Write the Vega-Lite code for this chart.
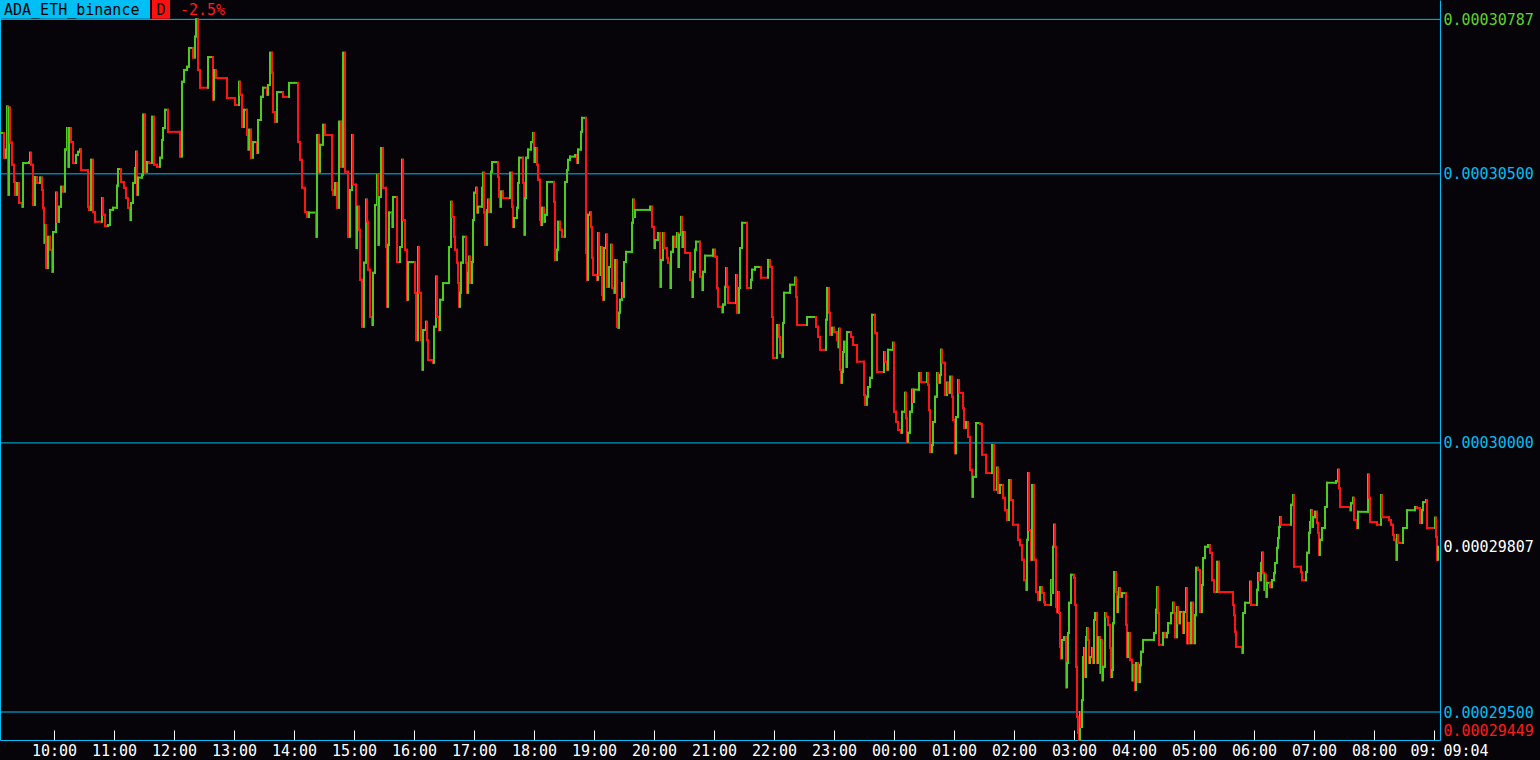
{
"$schema": "https://vega.github.io/schema/vega-lite/v6.json",
"width": 1440, "height": 740,
"autosize": {"type": "none"},
"padding": {"left": 0, "top": 0, "right": 100, "bottom": 20},
"background": "#060409",
"config": {"view": {"stroke": null}, "font": "DejaVu Sans Mono"},
"datasets": {
"ticks": [
{"t":546,"p":0.00030576},{"t":550,"p":0.00030530},{"t":552,"p":0.00030545},{"t":553,"p":0.00030625},{"t":554,"p":0.00030461},{"t":555,"p":0.00030623},{"t":556,"p":0.00030558},{"t":558,"p":0.00030517},{"t":560,"p":0.00030485},{"t":561,"p":0.00030461},{"t":563,"p":0.00030483},{"t":565,"p":0.00030446},{"t":568,"p":0.00030439},{"t":569,"p":0.00030520},{"t":575,"p":0.00030522},{"t":576,"p":0.00030539},{"t":577,"p":0.00030517},{"t":579,"p":0.00030442},{"t":581,"p":0.00030494},{"t":583,"p":0.00030483},{"t":586,"p":0.00030493},{"t":588,"p":0.00030470},{"t":589,"p":0.00030437},{"t":590,"p":0.00030372},{"t":591,"p":0.00030405},{"t":592,"p":0.00030325},{"t":594,"p":0.00030383},{"t":596,"p":0.00030359},{"t":598,"p":0.00030318},{"t":599,"p":0.00030392},{"t":602,"p":0.00030465},{"t":603,"p":0.00030411},{"t":605,"p":0.00030439},{"t":607,"p":0.00030476},{"t":609,"p":0.00030467},{"t":611,"p":0.00030545},{"t":613,"p":0.00030585},{"t":614,"p":0.00030513},{"t":615,"p":0.00030585},{"t":617,"p":0.00030559},{"t":619,"p":0.00030520},{"t":622,"p":0.00030535},{"t":624,"p":0.00030541},{"t":626,"p":0.00030545},{"t":627,"p":0.00030507},{"t":634,"p":0.00030439},{"t":635,"p":0.00030433},{"t":637,"p":0.00030526},{"t":639,"p":0.00030429},{"t":641,"p":0.00030411},{"t":648,"p":0.00030455},{"t":649,"p":0.00030424},{"t":651,"p":0.00030403},{"t":654,"p":0.00030405},{"t":656,"p":0.00030433},{"t":659,"p":0.00030437},{"t":663,"p":0.00030478},{"t":664,"p":0.00030509},{"t":667,"p":0.00030485},{"t":670,"p":0.00030474},{"t":672,"p":0.00030455},{"t":674,"p":0.00030437},{"t":676,"p":0.00030414},{"t":677,"p":0.00030446},{"t":679,"p":0.00030483},{"t":681,"p":0.00030511},{"t":682,"p":0.00030541},{"t":683,"p":0.00030461},{"t":684,"p":0.00030493},{"t":688,"p":0.00030498},{"t":689,"p":0.00030610},{"t":691,"p":0.00030504},{"t":693,"p":0.00030522},{"t":695,"p":0.00030520},{"t":698,"p":0.00030606},{"t":700,"p":0.00030517},{"t":703,"p":0.00030513},{"t":706,"p":0.00030530},{"t":708,"p":0.00030563},{"t":709,"p":0.00030585},{"t":711,"p":0.00030619},{"t":714,"p":0.00030578},{"t":726,"p":0.00030532},{"t":728,"p":0.00030671},{"t":730,"p":0.00030693},{"t":733,"p":0.00030699},{"t":735,"p":0.00030734},{"t":739,"p":0.00030716},{"t":741,"p":0.00030755},{"t":742,"p":0.00030787},{"t":744,"p":0.00030693},{"t":746,"p":0.00030660},{"t":754,"p":0.00030717},{"t":759,"p":0.00030638},{"t":760,"p":0.00030693},{"t":762,"p":0.00030678},{"t":773,"p":0.00030641},{"t":781,"p":0.00030628},{"t":785,"p":0.00030671},{"t":786,"p":0.00030647},{"t":788,"p":0.00030587},{"t":790,"p":0.00030619},{"t":793,"p":0.00030572},{"t":794,"p":0.00030545},{"t":795,"p":0.00030582},{"t":797,"p":0.00030530},{"t":799,"p":0.00030559},{"t":803,"p":0.00030539},{"t":804,"p":0.00030600},{"t":807,"p":0.00030643},{"t":809,"p":0.00030660},{"t":813,"p":0.00030647},{"t":814,"p":0.00030665},{"t":816,"p":0.00030725},{"t":818,"p":0.00030688},{"t":819,"p":0.00030615},{"t":821,"p":0.00030597},{"t":823,"p":0.00030652},{"t":829,"p":0.00030643},{"t":835,"p":0.00030669},{"t":844,"p":0.00030559},{"t":846,"p":0.00030526},{"t":848,"p":0.00030474},{"t":851,"p":0.00030429},{"t":853,"p":0.00030420},{"t":855,"p":0.00030428},{"t":862,"p":0.00030383},{"t":863,"p":0.00030572},{"t":865,"p":0.00030504},{"t":866,"p":0.00030554},{"t":869,"p":0.00030591},{"t":871,"p":0.00030572},{"t":878,"p":0.00030470},{"t":879,"p":0.00030461},{"t":881,"p":0.00030483},{"t":883,"p":0.00030437},{"t":885,"p":0.00030597},{"t":887,"p":0.00030513},{"t":889,"p":0.00030725},{"t":891,"p":0.00030504},{"t":894,"p":0.00030383},{"t":896,"p":0.00030470},{"t":898,"p":0.00030572},{"t":899,"p":0.00030480},{"t":902,"p":0.00030362},{"t":903,"p":0.00030439},{"t":905,"p":0.00030396},
{"t":906,"p":0.00030303},{"t":908,"p":0.00030216},{"t":910,"p":0.00030335},{"t":912,"p":0.00030452},{"t":913,"p":0.00030411},{"t":914,"p":0.00030322},{"t":916,"p":0.00030234},{"t":918,"p":0.00030219},{"t":919,"p":0.00030316},{"t":921,"p":0.00030442},{"t":923,"p":0.00030498},{"t":924,"p":0.00030368},{"t":925,"p":0.00030457},{"t":927,"p":0.00030548},{"t":929,"p":0.00030474},{"t":932,"p":0.00030364},{"t":933,"p":0.00030253},{"t":934,"p":0.00030368},{"t":935,"p":0.00030428},{"t":938,"p":0.00030401},{"t":939,"p":0.00030457},{"t":943,"p":0.00030336},{"t":946,"p":0.00030364},{"t":948,"p":0.00030526},{"t":949,"p":0.00030414},{"t":951,"p":0.00030359},{"t":953,"p":0.00030266},{"t":954,"p":0.00030336},{"t":961,"p":0.00030279},{"t":962,"p":0.00030191},{"t":964,"p":0.00030364},{"t":965,"p":0.00030279},{"t":967,"p":0.00030191},{"t":968,"p":0.00030136},{"t":969,"p":0.00030210},{"t":972,"p":0.00030225},{"t":973,"p":0.00030191},{"t":974,"p":0.00030154},{"t":979,"p":0.00030149},{"t":980,"p":0.00030216},{"t":982,"p":0.00030309},{"t":983,"p":0.00030234},{"t":985,"p":0.00030210},{"t":986,"p":0.00030266},{"t":989,"p":0.00030297},{"t":995,"p":0.00030364},{"t":997,"p":0.00030448},{"t":998,"p":0.00030420},{"t":1000,"p":0.00030383},{"t":1001,"p":0.00030359},{"t":1003,"p":0.00030335},{"t":1004,"p":0.00030297},{"t":1005,"p":0.00030253},{"t":1006,"p":0.00030279},{"t":1007,"p":0.00030335},{"t":1009,"p":0.00030383},{"t":1012,"p":0.00030335},{"t":1013,"p":0.00030279},{"t":1014,"p":0.00030316},{"t":1015,"p":0.00030346},{"t":1016,"p":0.00030297},{"t":1018,"p":0.00030336},{"t":1019,"p":0.00030414},{"t":1020,"p":0.00030465},{"t":1022,"p":0.00030474},{"t":1023,"p":0.00030428},{"t":1024,"p":0.00030439},{"t":1028,"p":0.00030474},{"t":1029,"p":0.00030502},{"t":1030,"p":0.00030428},{"t":1031,"p":0.00030368},{"t":1033,"p":0.00030433},{"t":1034,"p":0.00030452},{"t":1035,"p":0.00030429},{"t":1037,"p":0.00030504},{"t":1038,"p":0.00030522},{"t":1044,"p":0.00030494},{"t":1045,"p":0.00030457},{"t":1046,"p":0.00030439},{"t":1047,"p":0.00030467},{"t":1049,"p":0.00030455},{"t":1056,"p":0.00030502},{"t":1058,"p":0.00030439},{"t":1059,"p":0.00030401},{"t":1060,"p":0.00030418},{"t":1063,"p":0.00030437},{"t":1064,"p":0.00030483},{"t":1065,"p":0.00030530},{"t":1069,"p":0.00030483},{"t":1070,"p":0.00030387},{"t":1071,"p":0.00030455},{"t":1072,"p":0.00030530},{"t":1074,"p":0.00030545},{"t":1077,"p":0.00030559},{"t":1079,"p":0.00030576},{"t":1080,"p":0.00030522},{"t":1081,"p":0.00030548},{"t":1083,"p":0.00030517},{"t":1084,"p":0.00030489},{"t":1086,"p":0.00030414},{"t":1087,"p":0.00030405},{"t":1088,"p":0.00030437},{"t":1090,"p":0.00030411},{"t":1091,"p":0.00030424},{"t":1093,"p":0.00030485},{"t":1100,"p":0.00030448},{"t":1101,"p":0.00030340},{"t":1103,"p":0.00030359},{"t":1104,"p":0.00030411},{"t":1106,"p":0.00030396},{"t":1108,"p":0.00030383},{"t":1111,"p":0.00030485},{"t":1113,"p":0.00030507},{"t":1114,"p":0.00030526},{"t":1116,"p":0.00030532},{"t":1121,"p":0.00030535},{"t":1123,"p":0.00030520},{"t":1124,"p":0.00030545},{"t":1127,"p":0.00030578},{"t":1128,"p":0.00030604},{"t":1132,"p":0.00030353},{"t":1133,"p":0.00030303},{"t":1134,"p":0.00030424},{"t":1136,"p":0.00030428},{"t":1137,"p":0.00030401},{"t":1138,"p":0.00030344},{"t":1139,"p":0.00030312},{"t":1143,"p":0.00030303},{"t":1144,"p":0.00030390},{"t":1145,"p":0.00030312},{"t":1147,"p":0.00030364},{"t":1148,"p":0.00030275},{"t":1149,"p":0.00030266},{"t":1150,"p":0.00030362},{"t":1152,"p":0.00030387},{"t":1153,"p":0.00030290},{"t":1155,"p":0.00030327},{"t":1157,"p":0.00030368},{"t":1158,"p":0.00030288},{"t":1160,"p":0.00030279},{"t":1161,"p":0.00030340},{"t":1163,"p":0.00030216},{"t":1164,"p":0.00030214},{"t":1165,"p":0.00030242},{"t":1166,"p":0.00030266},{"t":1168,"p":0.00030297},{"t":1169,"p":0.00030271},{"t":1170,"p":0.00030336},{"t":1172,"p":0.00030355},{"t":1178,"p":0.00030409},{"t":1179,"p":0.00030452},{"t":1180,"p":0.00030420},{"t":1181,"p":0.00030433},{"t":1196,"p":0.00030439},{"t":1198,"p":0.00030401},{"t":1200,"p":0.00030362},{"t":1201,"p":0.00030377},{"t":1204,"p":0.00030390},{"t":1206,"p":0.00030290},{"t":1207,"p":0.00030340},{"t":1209,"p":0.00030390},{"t":1210,"p":0.00030362},{"t":1213,"p":0.00030344},{"t":1214,"p":0.00030335},{"t":1216,"p":0.00030288},{"t":1217,"p":0.00030355},{"t":1219,"p":0.00030383},{"t":1221,"p":0.00030364},{"t":1223,"p":0.00030390},{"t":1224,"p":0.00030327},{"t":1225,"p":0.00030387},{"t":1227,"p":0.00030420},{"t":1228,"p":0.00030364},{"t":1229,"p":0.00030392},{"t":1231,"p":0.00030353},{"t":1236,"p":0.00030303},{"t":1238,"p":0.00030271},{"t":1239,"p":0.00030318},{"t":1241,"p":0.00030359},{"t":1242,"p":0.00030374},
{"t":1246,"p":0.00030309},{"t":1248,"p":0.00030284},{"t":1249,"p":0.00030318},{"t":1251,"p":0.00030348},{"t":1259,"p":0.00030359},{"t":1261,"p":0.00030346},{"t":1263,"p":0.00030288},{"t":1264,"p":0.00030253},{"t":1268,"p":0.00030243},{"t":1269,"p":0.00030257},{"t":1271,"p":0.00030290},{"t":1272,"p":0.00030325},{"t":1273,"p":0.00030290},{"t":1274,"p":0.00030260},{"t":1282,"p":0.00030312},{"t":1283,"p":0.00030242},{"t":1285,"p":0.00030288},{"t":1286,"p":0.00030362},{"t":1288,"p":0.00030409},{"t":1293,"p":0.00030288},{"t":1297,"p":0.00030303},{"t":1298,"p":0.00030322},{"t":1301,"p":0.00030327},{"t":1307,"p":0.00030307},{"t":1314,"p":0.00030340},{"t":1316,"p":0.00030327},{"t":1318,"p":0.00030234},{"t":1319,"p":0.00030158},{"t":1323,"p":0.00030219},{"t":1325,"p":0.00030197},{"t":1326,"p":0.00030167},{"t":1328,"p":0.00030160},{"t":1329,"p":0.00030223},{"t":1330,"p":0.00030279},{"t":1336,"p":0.00030294},{"t":1341,"p":0.00030307},{"t":1342,"p":0.00030271},{"t":1343,"p":0.00030219},{"t":1353,"p":0.00030234},{"t":1362,"p":0.00030216},{"t":1364,"p":0.00030197},{"t":1366,"p":0.00030173},{"t":1372,"p":0.00030229},{"t":1373,"p":0.00030288},{"t":1375,"p":0.00030242},{"t":1376,"p":0.00030201},{"t":1378,"p":0.00030214},{"t":1380,"p":0.00030206},{"t":1383,"p":0.00030191},{"t":1384,"p":0.00030178},{"t":1385,"p":0.00030212},{"t":1386,"p":0.00030136},{"t":1387,"p":0.00030112},{"t":1388,"p":0.00030132},{"t":1389,"p":0.00030169},{"t":1390,"p":0.00030188},{"t":1392,"p":0.00030141},{"t":1393,"p":0.00030206},{"t":1397,"p":0.00030197},{"t":1399,"p":0.00030182},{"t":1403,"p":0.00030151},{"t":1410,"p":0.00030089},{"t":1411,"p":0.00030071},{"t":1413,"p":0.00030086},{"t":1414,"p":0.00030104},{"t":1416,"p":0.00030121},{"t":1418,"p":0.00030238},{"t":1421,"p":0.00030204},{"t":1423,"p":0.00030132},{"t":1430,"p":0.00030169},{"t":1431,"p":0.00030151},{"t":1433,"p":0.00030136},{"t":1434,"p":0.00030173},{"t":1439,"p":0.00030186},{"t":1440,"p":0.00030058},{"t":1442,"p":0.00030039},{"t":1444,"p":0.00030024},{"t":1447,"p":0.00030019},{"t":1448,"p":0.00030058},{"t":1451,"p":0.00030093},{"t":1452,"p":0.00030046},{"t":1453,"p":0.00030002},{"t":1454,"p":0.00030019},{"t":1456,"p":0.00030058},{"t":1458,"p":0.00030099},{"t":1459,"p":0.00030076},{"t":1460,"p":0.00030099},{"t":1465,"p":0.00030130},{"t":1467,"p":0.00030113},{"t":1473,"p":0.00030130},{"t":1474,"p":0.00030108},{"t":1475,"p":0.00030061},{"t":1476,"p":0.00029983},{"t":1478,"p":0.00029996},{"t":1479,"p":0.00030039},{"t":1481,"p":0.00030086},{"t":1483,"p":0.00030130},{"t":1484,"p":0.00030112},{"t":1486,"p":0.00030126},{"t":1487,"p":0.00030173},{"t":1488,"p":0.00030149},{"t":1491,"p":0.00030089},{"t":1493,"p":0.00030112},{"t":1494,"p":0.00030093},{"t":1496,"p":0.00030123},{"t":1498,"p":0.00030086},{"t":1499,"p":0.00030043},{"t":1501,"p":0.00029981},{"t":1502,"p":0.00030048},{"t":1504,"p":0.00030117},{"t":1505,"p":0.00030093},{"t":1509,"p":0.00030065},{"t":1510,"p":0.00030028},{"t":1512,"p":0.00030039},{"t":1514,"p":0.00030011},{"t":1516,"p":0.00029950},{"t":1518,"p":0.00029900},{"t":1519,"p":0.00029937},{"t":1522,"p":0.00030037},{"t":1526,"p":0.00030035},{"t":1528,"p":0.00029978},{"t":1532,"p":0.00029944},{"t":1538,"p":0.00029996},{"t":1540,"p":0.00029913},{"t":1543,"p":0.00029954},{"t":1544,"p":0.00029907},{"t":1546,"p":0.00029922},{"t":1549,"p":0.00029898},{"t":1551,"p":0.00029875},{"t":1553,"p":0.00029857},{"t":1555,"p":0.00029931},{"t":1557,"p":0.00029894},{"t":1559,"p":0.00029848},{"t":1564,"p":0.00029820},{"t":1566,"p":0.00029810},{"t":1568,"p":0.00029783},{"t":1570,"p":0.00029745},{"t":1572,"p":0.00029727},{"t":1573,"p":0.00029820},{"t":1574,"p":0.00029944},{"t":1575,"p":0.00029838},{"t":1577,"p":0.00029783},{"t":1578,"p":0.00029922},{"t":1580,"p":0.00029783},{"t":1582,"p":0.00029723},{"t":1584,"p":0.00029708},
{"t":1586,"p":0.00029732},{"t":1588,"p":0.00029721},{"t":1590,"p":0.00029704},{"t":1591,"p":0.00029699},{"t":1597,"p":0.00029745},{"t":1598,"p":0.00029721},{"t":1599,"p":0.00029807},{"t":1600,"p":0.00029848},{"t":1601,"p":0.00029807},{"t":1602,"p":0.00029695},{"t":1603,"p":0.00029686},{"t":1604,"p":0.00029723},{"t":1605,"p":0.00029684},{"t":1606,"p":0.00029621},{"t":1607,"p":0.00029600},{"t":1608,"p":0.00029634},{"t":1610,"p":0.00029639},{"t":1612,"p":0.00029546},{"t":1613,"p":0.00029591},{"t":1614,"p":0.00029647},{"t":1615,"p":0.00029703},{"t":1617,"p":0.00029755},{"t":1620,"p":0.00029749},{"t":1621,"p":0.00029699},{"t":1622,"p":0.00029584},{"t":1623,"p":0.00029491},{"t":1624,"p":0.00029461},{"t":1625,"p":0.00029449},{"t":1626,"p":0.00029500},{"t":1627,"p":0.00029472},{"t":1628,"p":0.00029522},{"t":1629,"p":0.00029602},{"t":1630,"p":0.00029619},{"t":1631,"p":0.00029565},{"t":1632,"p":0.00029639},{"t":1633,"p":0.00029656},{"t":1634,"p":0.00029634},{"t":1635,"p":0.00029591},{"t":1636,"p":0.00029602},{"t":1638,"p":0.00029619},{"t":1639,"p":0.00029591},{"t":1640,"p":0.00029671},{"t":1641,"p":0.00029684},{"t":1643,"p":0.00029591},{"t":1644,"p":0.00029639},{"t":1646,"p":0.00029573},{"t":1647,"p":0.00029634},{"t":1648,"p":0.00029559},{"t":1649,"p":0.00029584},{"t":1651,"p":0.00029684},{"t":1652,"p":0.00029677},{"t":1654,"p":0.00029662},{"t":1656,"p":0.00029619},{"t":1657,"p":0.00029565},{"t":1658,"p":0.00029578},{"t":1659,"p":0.00029665},{"t":1660,"p":0.00029760},{"t":1662,"p":0.00029723},{"t":1663,"p":0.00029686},{"t":1664,"p":0.00029714},{"t":1665,"p":0.00029730},{"t":1666,"p":0.00029714},{"t":1668,"p":0.00029721},{"t":1672,"p":0.00029662},{"t":1673,"p":0.00029602},{"t":1674,"p":0.00029647},{"t":1676,"p":0.00029597},{"t":1678,"p":0.00029559},{"t":1679,"p":0.00029587},{"t":1680,"p":0.00029559},{"t":1681,"p":0.00029541},{"t":1682,"p":0.00029591},{"t":1684,"p":0.00029556},{"t":1686,"p":0.00029587},{"t":1687,"p":0.00029612},{"t":1689,"p":0.00029634},{"t":1700,"p":0.00029647},{"t":1702,"p":0.00029690},{"t":1703,"p":0.00029732},{"t":1704,"p":0.00029684},{"t":1705,"p":0.00029625},{"t":1709,"p":0.00029647},{"t":1711,"p":0.00029639},{"t":1713,"p":0.00029647},{"t":1714,"p":0.00029665},{"t":1717,"p":0.00029684},{"t":1719,"p":0.00029703},{"t":1720,"p":0.00029684},{"t":1721,"p":0.00029639},{"t":1723,"p":0.00029695},{"t":1724,"p":0.00029665},{"t":1726,"p":0.00029686},{"t":1729,"p":0.00029647},{"t":1730,"p":0.00029686},{"t":1732,"p":0.00029730},{"t":1733,"p":0.00029628},{"t":1734,"p":0.00029665},{"t":1735,"p":0.00029628},{"t":1737,"p":0.00029703},{"t":1739,"p":0.00029628},{"t":1741,"p":0.00029680},{"t":1742,"p":0.00029768},{"t":1744,"p":0.00029764},{"t":1746,"p":0.00029686},{"t":1748,"p":0.00029736},{"t":1749,"p":0.00029786},{"t":1751,"p":0.00029807},{"t":1754,"p":0.00029810},{"t":1756,"p":0.00029796},{"t":1758,"p":0.00029745},{"t":1760,"p":0.00029723},{"t":1763,"p":0.00029779},{"t":1765,"p":0.00029723},{"t":1779,"p":0.00029699},{"t":1780,"p":0.00029680},{"t":1781,"p":0.00029649},{"t":1782,"p":0.00029621},{"t":1788,"p":0.00029610},{"t":1789,"p":0.00029684},{"t":1791,"p":0.00029703},{"t":1796,"p":0.00029742},{"t":1797,"p":0.00029699},{"t":1803,"p":0.00029727},{"t":1804,"p":0.00029758},{"t":1805,"p":0.00029745},{"t":1807,"p":0.00029777},{"t":1808,"p":0.00029796},{"t":1809,"p":0.00029758},{"t":1810,"p":0.00029727},{"t":1811,"p":0.00029755},{"t":1812,"p":0.00029714},{"t":1813,"p":0.00029740},{"t":1816,"p":0.00029732},{"t":1818,"p":0.00029745},{"t":1820,"p":0.00029758},{"t":1821,"p":0.00029777},{"t":1823,"p":0.00029805},{"t":1824,"p":0.00029823},{"t":1825,"p":0.00029844},{"t":1826,"p":0.00029862},{"t":1827,"p":0.00029848},{"t":1837,"p":0.00029885},{"t":1839,"p":0.00029903},{"t":1840,"p":0.00029770},{"t":1847,"p":0.00029760},{"t":1848,"p":0.00029745},{"t":1852,"p":0.00029760},{"t":1853,"p":0.00029796},{"t":1855,"p":0.00029833},{"t":1856,"p":0.00029853},{"t":1857,"p":0.00029875},{"t":1858,"p":0.00029844},{"t":1859,"p":0.00029862},{"t":1861,"p":0.00029872},{"t":1863,"p":0.00029851},{"t":1864,"p":0.00029833},{"t":1865,"p":0.00029792},{"t":1866,"p":0.00029820},{"t":1868,"p":0.00029842},{"t":1871,"p":0.00029881},{"t":1873,"p":0.00029926},{"t":1882,"p":0.00029929},{"t":1884,"p":0.00029950},{"t":1885,"p":0.00029916},{"t":1886,"p":0.00029881},{"t":1896,"p":0.00029875},{"t":1897,"p":0.00029888},{"t":1899,"p":0.00029898},{"t":1900,"p":0.00029857},{"t":1903,"p":0.00029842},{"t":1904,"p":0.00029872},{"t":1914,"p":0.00029941},{"t":1915,"p":0.00029898},{"t":1916,"p":0.00029853},{"t":1923,"p":0.00029848},{"t":1927,"p":0.00029903},{"t":1928,"p":0.00029862},{"t":1935,"p":0.00029857},{"t":1937,"p":0.00029848},{"t":1939,"p":0.00029829},{"t":1940,"p":0.00029820},{"t":1942,"p":0.00029783},{"t":1943,"p":0.00029829},{"t":1944,"p":0.00029814},{"t":1949,"p":0.00029842},{"t":1953,"p":0.00029875},{"t":1961,"p":0.00029881},{"t":1963,"p":0.00029879},{"t":1966,"p":0.00029851},{"t":1968,"p":0.00029875},{"t":1969,"p":0.00029890},{"t":1972,"p":0.00029894},{"t":1973,"p":0.00029842},{"t":1981,"p":0.00029861},{"t":1982,"p":0.00029825},{"t":1983,"p":0.00029783},{"t":1984,"p":0.00029807}
],
"levels": [{"level":0.00030787},{"level":0.00030500},{"level":0.00030000},{"level":0.00029500}],
"header": [{"name":"ADA_ETH_binance","period":"D","change":"-2.5%"}]
},
"resolve": {"axis": {"y": "independent"}},
"layer": [
{
"data": {"name": "levels"},
"mark": {"type": "rule", "color": "#00bdf5", "strokeWidth": 1},
"encoding": {
"y": {"field": "level", "type": "quantitative",
"scale": {"domain": [0.00029448, 0.00030823], "nice": false, "zero": false},
"axis": {"orient": "left", "labels": false, "ticks": false, "grid": false, "title": null, "domainColor": "#00bdf5", "domainWidth": 1}}
}
},
{
"data": {"name": "ticks"},
"transform": [
{"window": [{"op": "lag", "field": "p", "as": "pp"}, {"op": "lead", "field": "t", "as": "tn"}]},
{"filter": "datum.tn != null"}
],
"mark": {"type": "rule", "strokeWidth": 2, "strokeCap": "square"},
"encoding": {
"x": {"field": "t", "type": "quantitative",
"scale": {"domain": [546, 1986], "nice": false, "zero": false},
"axis": {
"values": [600,660,720,780,840,900,960,1020,1080,1140,1200,1260,1320,1380,1440,1500,1560,1620,1680,1740,1800,1860,1920,1980,1984],
"labelExpr": "datum.value == 1984 ? '09:04' : datum.value == 1980 ? '09:' : utcFormat(datum.value * 60000, '%H:%M')",
"labelColor": "#ffffff", "labelFont": "DejaVu Sans Mono", "labelFontSize": 15,
"labelAlign": {"condition": [
{"test": "datum.value == 1984", "value": "left"},
{"test": "datum.value == 1980", "value": "right"}
], "value": "center"},
"labelOffset": {"condition": [
{"test": "datum.value == 1984", "value": 5},
{"test": "datum.value == 1980", "value": 3}
], "value": 0},
"tickColor": {"condition": {"test": "datum.value == 1984", "value": "transparent"}, "value": "#ffffff"},
"tickSize": -10, "tickWidth": 1,
"labelPadding": 13, "labelBound": false, "labelOverlap": false, "labelFlush": false,
"domainColor": "#00bdf5", "grid": false, "title": null}},
"x2": {"field": "tn"},
"y": {"field": "p", "type": "quantitative",
"axis": {"orient": "right",
"values": [0.00030787, 0.000305, 0.0003, 0.00029807, 0.000295, 0.00029449],
"format": ".8f", "labelFont": "DejaVu Sans Mono", "labelFontSize": 15,
"labelColor": {"condition": [
{"test": "datum.value > 0.000307", "value": "#5fd12a"},
{"test": "datum.value < 0.0002946", "value": "#ff1a1a"},
{"test": "datum.value > 0.000298 && datum.value < 0.000299", "value": "#ffffff"}
], "value": "#00bdf5"},
"labelOffset": {"condition": {"test": "datum.value < 0.0002946", "value": -9}, "value": 0},
"labelPadding": 3, "labelBound": false, "labelOverlap": false, "labelFlush": false,
"ticks": false, "grid": false, "title": null, "domainColor": "#00bdf5"}},
"color": {"condition": {"test": "datum.p >= datum.pp", "value": "#4ccc1e"}, "value": "#ff1414"}
}
},
{
"data": {"name": "ticks"},
"transform": [
{"window": [{"op": "lag", "field": "p", "as": "pp"}]},
{"filter": "datum.pp != null"}
],
"mark": {"type": "rule", "strokeWidth": 2, "strokeCap": "square"},
"encoding": {
"x": {"field": "t", "type": "quantitative"},
"y": {"field": "pp", "type": "quantitative", "axis": null},
"y2": {"field": "p"},
"color": {"condition": {"test": "datum.p >= datum.pp", "value": "#4ccc1e"}, "value": "#ff1414"}
}
},
{
"data": {"name": "header"},
"mark": {"type": "rect", "color": "#00bff5"},
"encoding": {
"x": {"datum": 546, "type": "quantitative"},
"x2": {"datum": 696},
"y": {"datum": 0.00030823, "type": "quantitative", "axis": null},
"y2": {"datum": 0.0003078815}
}
},
{
"data": {"name": "header"},
"mark": {"type": "rect", "color": "#ff1010"},
"encoding": {
"x": {"datum": 698, "type": "quantitative"},
"x2": {"datum": 716},
"y": {"datum": 0.00030823, "type": "quantitative", "axis": null},
"y2": {"datum": 0.0003078815}
}
},
{
"data": {"name": "header"},
"mark": {"type": "text", "align": "left", "baseline": "middle", "font": "DejaVu Sans Mono", "fontSize": 15, "color": "#000000"},
"encoding": {
"x": {"datum": 550, "type": "quantitative"},
"y": {"datum": 0.000308048, "type": "quantitative", "axis": null},
"text": {"field": "name"}
}
},
{
"data": {"name": "header"},
"mark": {"type": "text", "align": "center", "baseline": "middle", "font": "DejaVu Sans Mono", "fontSize": 15, "color": "#000000"},
"encoding": {
"x": {"datum": 707, "type": "quantitative"},
"y": {"datum": 0.000308048, "type": "quantitative", "axis": null},
"text": {"field": "period"}
}
},
{
"data": {"name": "header"},
"mark": {"type": "text", "align": "left", "baseline": "middle", "font": "DejaVu Sans Mono", "fontSize": 15, "color": "#ff1a1a"},
"encoding": {
"x": {"datum": 726, "type": "quantitative"},
"y": {"datum": 0.000308048, "type": "quantitative", "axis": null},
"text": {"field": "change"}
}
}
]
}
